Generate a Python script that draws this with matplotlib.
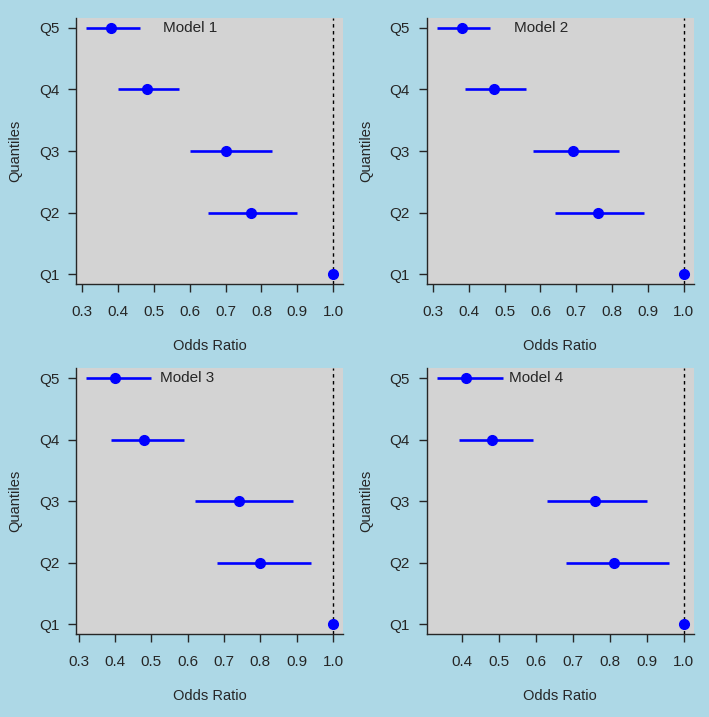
import numpy as np
import matplotlib
matplotlib.use("Agg")
import matplotlib.pyplot as plt

plt.rcParams['font.family'] = ['Liberation Sans', 'DejaVu Sans']

quantiles = ['Q1', 'Q2', 'Q3', 'Q4', 'Q5']
models = ['Model 1', 'Model 2', 'Model 3', 'Model 4']

# odds ratio and 95% CI per quantile (Q1 is reference)
or_m1 = [1.0, 0.77, 0.70, 0.48, 0.38]
lo_m1 = [1.0, 0.65, 0.60, 0.40, 0.31]
hi_m1 = [1.0, 0.90, 0.83, 0.57, 0.46]

or_m2 = [1.0, 0.76, 0.69, 0.47, 0.38]
lo_m2 = [1.0, 0.64, 0.58, 0.39, 0.31]
hi_m2 = [1.0, 0.89, 0.82, 0.56, 0.46]

or_m3 = [1.0, 0.80, 0.74, 0.48, 0.40]
lo_m3 = [1.0, 0.68, 0.62, 0.39, 0.32]
hi_m3 = [1.0, 0.94, 0.89, 0.59, 0.50]

or_m4 = [1.0, 0.81, 0.76, 0.48, 0.41]
lo_m4 = [1.0, 0.68, 0.63, 0.39, 0.33]
hi_m4 = [1.0, 0.96, 0.90, 0.59, 0.51]

data = [(or_m1, lo_m1, hi_m1), (or_m2, lo_m2, hi_m2),
        (or_m3, lo_m3, hi_m3), (or_m4, lo_m4, hi_m4)]

txt = '#262626'
fig = plt.figure(figsize=(7.09, 7.17), dpi=100, facecolor='#add8e6')

# axes rectangles in pixels (left, top)
W, H = 709., 717.
boxes = [(76, 18), (426.7, 18), (76, 368.3), (426.7, 368.3)]
aw, ah = 267., 266.

for k, (est, lo, hi) in enumerate(data):
    x0, y0 = boxes[k]
    ax = fig.add_axes([x0 / W, 1 - (y0 + ah) / H, aw / W, ah / H])
    ax.set_facecolor('#d3d3d3')
    y = np.arange(1, len(quantiles) + 1)
    est = np.array(est); lo = np.array(lo); hi = np.array(hi)
    ax.axvline(1.0, color='black', ls=(0, (2.5, 2.5)), lw=1.0, zorder=1)
    ax.hlines(y, lo, hi, color='#0000ff', lw=1.9, zorder=2)
    ax.plot(est, y, 'o', color='#0000ff', ms=7, zorder=3)

    xmin = lo.min()
    rng = 1.0 - xmin
    ax.set_xlim(xmin - 0.04 * rng, 1.0 + 0.04 * rng)
    ax.set_ylim(0.84, 5.16)
    ticks = [t for t in np.arange(0.3, 1.01, 0.1) if t >= xmin - 0.04 * rng]
    ax.set_xticks(ticks)
    ax.set_xticklabels(['%.1f' % t for t in ticks])
    ax.set_yticks(y)
    ax.set_yticklabels(quantiles)

    for s in ['top', 'right']:
        ax.spines[s].set_visible(False)
    for s in ['left', 'bottom']:
        ax.spines[s].set_color(txt)
        ax.spines[s].set_linewidth(1.0)
    ax.tick_params(axis='x', length=6, width=1, color=txt, labelcolor=txt,
                   labelsize=11, pad=9)
    ax.tick_params(axis='y', length=6, width=1, color=txt, labelcolor=txt,
                   labelsize=11, pad=6)

    ax.set_xlabel('Odds Ratio', fontsize=10.5, color=txt, va='center')
    ax.xaxis.set_label_coords(0.5, -0.232)
    ax.set_ylabel('Quantiles', fontsize=10.5, color=txt, va='center')
    ax.yaxis.set_label_coords(-0.228, 0.5)

    ax.text(0.525, 5, models[k], ha='left', va='center', fontsize=11, color=txt)

fig.savefig('out.png', dpi=100, facecolor=fig.get_facecolor())
